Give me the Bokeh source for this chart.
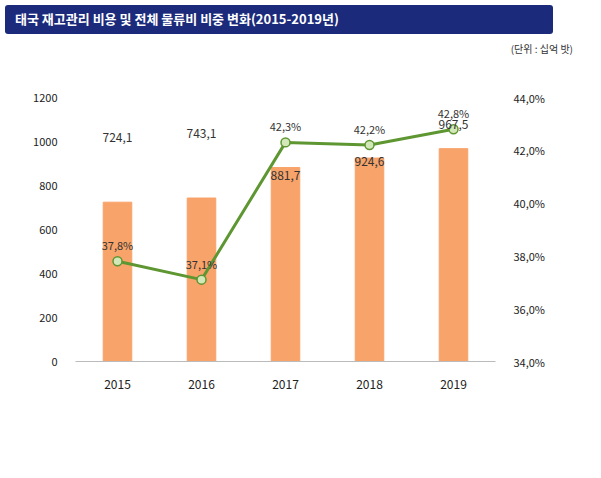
from bokeh.plotting import figure
from bokeh.models import Range1d, LinearAxis, ColumnDataSource, Div, Legend, LegendItem, CustomJSTickFormatter, FixedTicker
from bokeh.layouts import column
from bokeh.embed import file_html
from bokeh.resources import INLINE
from bokeh.core.properties import value

years = ["2015", "2016", "2017", "2018", "2019"]
cost = [724.1, 743.1, 881.7, 924.6, 967.5]
share = [37.8, 37.1, 42.3, 42.2, 42.8]

F = "Noto Sans CJK KR"
src = ColumnDataSource(dict(
    x=years, cost=cost, share=share,
    cl=[f"{v:.1f}".replace(".", ",") for v in cost],
    sl=[f"{v:.1f}%".replace(".", ",") for v in share],
    coff=[-60, -60, 12, 8, -20],
))

title = Div(text=f'<div style="background:#1b2a7b;color:white;font-family:\'{F}\';font-size:13px;font-weight:bold;padding:5px 10px;border-radius:3px;width:548px">태국 재고관리 비용 및 전체 물류비 비중 변화(2015-2019년)</div>'
            f'<div style="font-family:\'{F}\';font-size:10px;color:#333;text-align:right;width:568px;margin-top:8px">(단위 : 십억 밧)</div>',
            width=585, height=62)

p = figure(x_range=years, y_range=Range1d(0, 1200), frame_width=420, frame_height=264,
           output_backend="svg", toolbar_location=None,
           min_border_left=75, min_border_right=70, min_border_top=25, min_border_bottom=10)
p.extra_y_ranges = {"r": Range1d(34, 44)}
bars = p.vbar(x="x", top="cost", width=0.34, color="#f8a36a", source=src)
ra = LinearAxis(y_range_name="r", ticker=FixedTicker(ticks=[34, 36, 38, 40, 42, 44]),
                formatter=CustomJSTickFormatter(code="return tick.toFixed(1).replace('.', ',') + '%';"))
p.add_layout(ra, "right")
ln = p.line(x="x", y="share", y_range_name="r", color="#5e9632", line_width=3, source=src)
mk = p.scatter(x="x", y="share", y_range_name="r", size=9, fill_color="#d3e8b8", line_color="#5e9632", line_width=1.5, source=src)
p.text(x="x", y="cost", text="cl", y_offset="coff", text_align="center", text_baseline="bottom",
       text_font=value(F), text_font_size="12px", text_color="#333", source=src)
p.text(x="x", y="share", text="sl", y_range_name="r", y_offset=-8, text_align="center", text_baseline="bottom",
       text_font=value(F), text_font_size="11px", text_color="#333", source=src)
p.yaxis[0].ticker = FixedTicker(ticks=[0, 200, 400, 600, 800, 1000, 1200])
for ax in [p.yaxis[0], ra, p.xaxis[0]]:
    ax.major_label_text_font = F
    ax.major_label_text_font_size = "11px"
    ax.major_label_text_color = "#222"
    ax.major_tick_line_color = None
    ax.minor_tick_line_color = None
    ax.major_label_standoff = 12
p.yaxis[0].axis_line_color = None
ra.axis_line_color = None
p.xaxis.axis_line_color = "#bbbbbb"
p.xaxis.major_label_text_font_size = "12px"
p.xgrid.grid_line_color = None
p.ygrid.grid_line_color = None
p.outline_line_color = None
leg = Legend(items=[LegendItem(label="재고비용", renderers=[bars]), LegendItem(label="물류비 비중", renderers=[ln, mk])],
             orientation="horizontal", location="center", label_text_font=F, label_text_font_size="12px",
             border_line_color=None, glyph_width=30, spacing=20, margin=4)
p.add_layout(leg, "below")

foot = Div(text=f'<div style="border-top:1px solid #333;width:570px;padding-top:10px;font-family:\'{F}\';font-size:10px;color:#333">자료 : NESDC, <i>Thailand\'s Logistics Report 2019</i>, 2019.8.</div>',
           width=585, height=40)
lay = column(title, p, foot, spacing=0)
open("out.html", "w").write(file_html(lay, INLINE))
